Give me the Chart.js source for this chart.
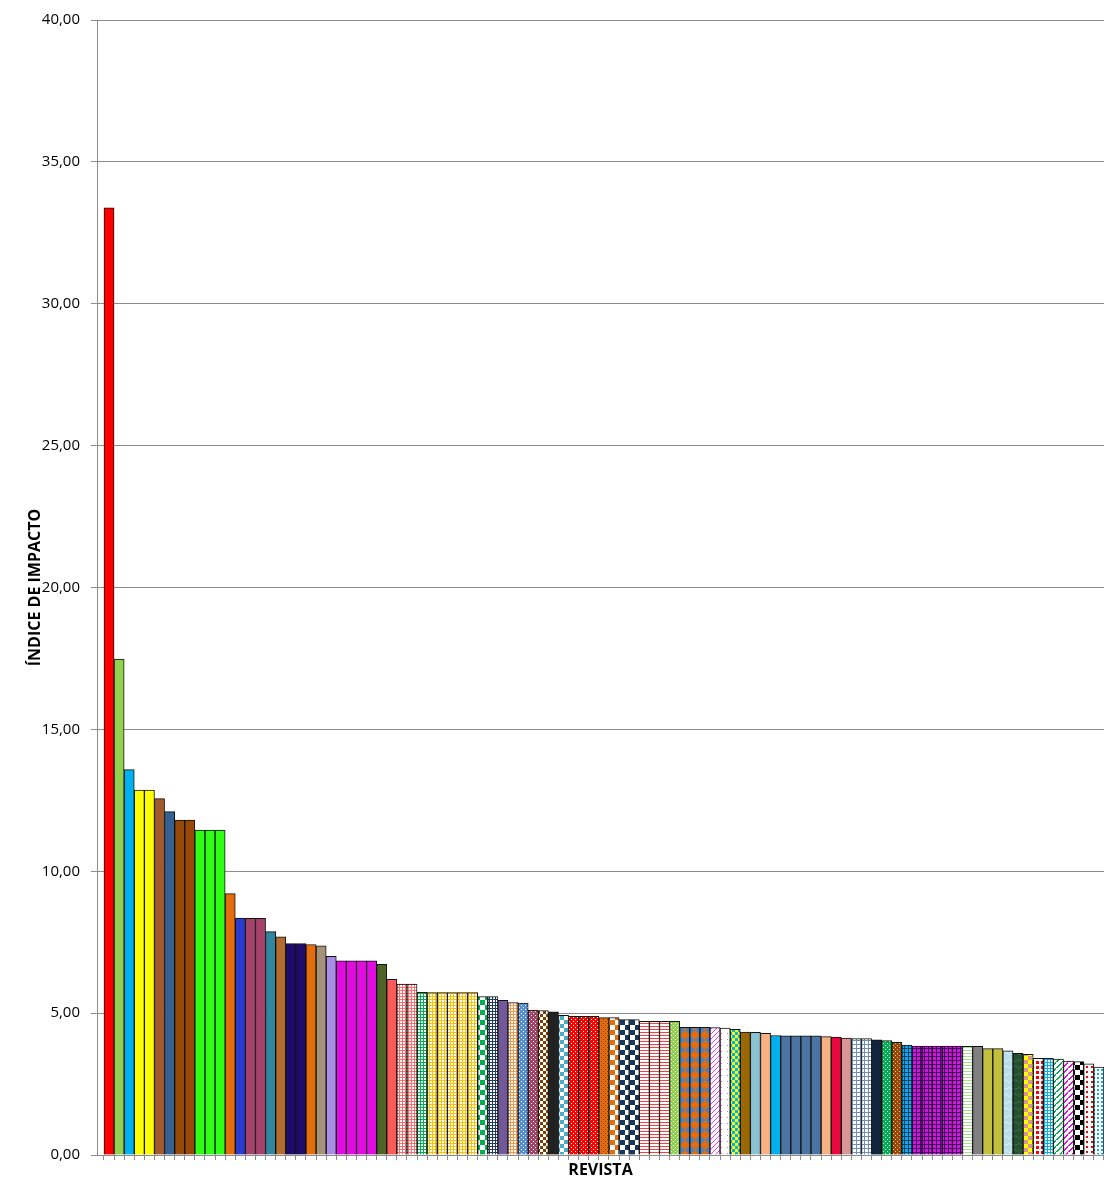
<!DOCTYPE html>
<html lang="es">
<head>
<meta charset="UTF-8">
<title>Índice de impacto por revista</title>
<script src="https://cdn.jsdelivr.net/npm/chart.js@4.4.1/dist/chart.umd.min.js"></script>
<style>
  body { margin: 0; background: #fff; }
  #wrap { width: 1104px; height: 1180px; }
</style>
</head>
<body>
<div id="wrap"><canvas id="chart"></canvas></div>
<script>
// impact index per journal, sorted descending
const values = [33.38, 17.48, 13.58, 12.86, 12.86, 12.56, 12.10, 11.80, 11.80, 11.45, 11.45, 11.45,
  9.21, 8.35, 8.34, 8.34, 7.87, 7.69, 7.45, 7.45, 7.42, 7.37, 7.00, 6.84, 6.84, 6.84, 6.84, 6.72,
  6.19, 6.02, 6.02, 5.73, 5.72, 5.72, 5.72, 5.72, 5.72, 5.58, 5.58, 5.45, 5.37, 5.35, 5.11, 5.09,
  5.05, 4.92, 4.89, 4.89, 4.89, 4.84, 4.84, 4.77, 4.77, 4.71, 4.71, 4.71, 4.71, 4.50, 4.50, 4.50,
  4.49, 4.47, 4.43, 4.33, 4.32, 4.29, 4.21, 4.20, 4.20, 4.20, 4.20, 4.17, 4.16, 4.12, 4.10, 4.10,
  4.06, 4.03, 3.97, 3.87, 3.84, 3.84, 3.84, 3.84, 3.84, 3.83, 3.83, 3.75, 3.75, 3.67, 3.58, 3.55,
  3.41, 3.41, 3.38, 3.31, 3.29, 3.21, 3.10];

const yTicks = [0, 5, 10, 15, 20, 25, 30, 35, 40];

// fill of each bar: plain colour or "pattern:args"
const fills = [
  '#ff0000', '#92d050', '#00b0f0', '#ffff00', '#ffff00', '#a05a2c', '#376092', '#984807', '#984807',
  '#2eff14', '#2eff14', '#2eff14',
  '#e46c0a', '#2b3bd0', '#a5426a', '#a5426a', '#31859c', '#b36b30', '#1f0b6b', '#1f0b6b', '#e46c0a',
  '#a6917b', '#a78de6', '#e00ce0', '#e00ce0', '#e00ce0', '#e00ce0', '#4f6228',
  '#fd5b5b', 'grid:#ff6b6b:3', 'grid:#ff6b6b:3', 'grid:#00b050:3',
  'grid:#ffc000:3', 'grid:#ffc000:3', 'grid:#ffc000:3', 'grid:#ffc000:3', 'grid:#ffc000:3',
  'check:#00b050:#ffffff:5', 'grid:#1f3864:3', '#725a9a', 'grid:#f79646:3',
  'dots:#558ed5:#ffffff', 'dots:#a64265:#ffffff', 'check:#7f3f00:#ffffff:3',
  '#222222', 'check:#4bacc6:#ffffff:4', 'dots:#ff0000:#ffffff', 'dots:#ff0000:#ffffff', 'dots:#ff0000:#ffffff',
  'dots:#e46c0a:#7a3c00', 'check:#e46c0a:#ffffff:5', 'check:#17375e:#ffffff:5', 'check:#17375e:#ffffff:5',
  'hline:#ff3b3b', 'hline:#ff3b3b', 'hline:#ff3b3b', 'dots:#92d050:#ffffff',
  'diamond:#4f81bd:#e46c0a', 'diamond:#4f81bd:#e46c0a', 'diamond:#4f81bd:#e46c0a',
  'diag:#ff33ff:1', 'wdots:#ff66cc:6:1', 'check:#ffff00:#00b0f0:3', '#9a6700', '#8ac3d3', '#f8b183',
  '#00b0f0', '#4c74a2', '#4c74a2', '#4c74a2', '#4c74a2', '#f8b183', '#e6083e', '#d99694',
  'grid:#6d8fba:4', 'grid:#6d8fba:4',
  '#10243e', 'dots:#00b050:#ffffff', 'dots:#974806:#e0c0a0', 'plaid:#00b0f0:#1f3864',
  'plaid:#e00ce0:#2a1a5e', 'plaid:#e00ce0:#2a1a5e', 'plaid:#e00ce0:#2a1a5e', 'plaid:#e00ce0:#2a1a5e', 'plaid:#e00ce0:#2a1a5e',
  'hline:#a8e08f', '#808080', '#c3bf3e', '#c3bf3e', 'marble:#b7dee8:#dff1f6', 'marble:#23512f:#3f7049',
  'check:#ffff00:#d99694:4',
  'squares:#ff0000', 'grid:#00b0f0:3', 'diag:#00b050:2', 'diag:#e00ce0:2', 'check:#000000:#ffffff:5',
  'wdots:#ff0000:5:2', 'wdots:#00b0f0:4:2'
];

function tile(w, h, draw) {
  const c = document.createElement('canvas');
  c.width = w; c.height = h;
  const g = c.getContext('2d');
  draw(g);
  return g.createPattern(c, 'repeat');
}

function makeFill(spec) {
  if (spec[0] === '#') return spec;
  const p = spec.split(':');
  const kind = p[0];
  if (kind === 'grid') {
    const s = +p[2];
    return tile(s, s, g => {
      g.fillStyle = '#fff'; g.fillRect(0, 0, s, s);
      g.fillStyle = p[1]; g.fillRect(0, 0, s, 1); g.fillRect(0, 0, 1, s);
    });
  }
  if (kind === 'plaid') {
    return tile(4, 4, g => {
      g.fillStyle = p[1]; g.fillRect(0, 0, 4, 4);
      g.fillStyle = p[2]; g.fillRect(0, 0, 4, 1); g.fillRect(0, 0, 1, 4);
    });
  }
  if (kind === 'check') {
    const s = +p[3];
    return tile(2 * s, 2 * s, g => {
      g.fillStyle = p[2]; g.fillRect(0, 0, 2 * s, 2 * s);
      g.fillStyle = p[1]; g.fillRect(0, 0, s, s); g.fillRect(s, s, s, s);
    });
  }
  if (kind === 'dots') {
    return tile(4, 4, g => {
      g.fillStyle = p[1]; g.fillRect(0, 0, 4, 4);
      g.fillStyle = p[2]; g.fillRect(1, 1, 1, 1); g.fillRect(3, 3, 1, 1);
    });
  }
  if (kind === 'wdots') {
    const s = +p[2], d = +p[3];
    return tile(s, s, g => {
      g.fillStyle = '#fff'; g.fillRect(0, 0, s, s);
      g.fillStyle = p[1]; g.fillRect(1, 1, d, d);
    });
  }
  if (kind === 'squares') {
    return tile(5, 5, g => {
      g.fillStyle = '#fff'; g.fillRect(0, 0, 5, 5);
      g.fillStyle = p[1]; g.fillRect(1, 1, 3, 3);
    });
  }
  if (kind === 'hline') {
    return tile(3, 3, g => {
      g.fillStyle = '#fff'; g.fillRect(0, 0, 3, 3);
      g.fillStyle = p[1]; g.fillRect(0, 0, 3, 1);
    });
  }
  if (kind === 'diag') {
    const w = +p[2], s = 4 + w;
    return tile(s, s, g => {
      g.fillStyle = '#fff'; g.fillRect(0, 0, s, s);
      g.fillStyle = p[1];
      for (let i = 0; i < s; i++) g.fillRect(i, (s - 1 - i), 1, w);
    });
  }
  if (kind === 'diamond') {
    return tile(10, 10, g => {
      g.fillStyle = p[1]; g.fillRect(0, 0, 10, 10);
      g.fillStyle = p[2];
      g.beginPath(); g.moveTo(5, 0); g.lineTo(10, 5); g.lineTo(5, 10); g.lineTo(0, 5); g.closePath(); g.fill();
    });
  }
  if (kind === 'marble') {
    return tile(10, 14, g => {
      g.fillStyle = p[1]; g.fillRect(0, 0, 10, 14);
      g.strokeStyle = p[2]; g.lineWidth = 1;
      g.beginPath(); g.moveTo(0, 3); g.quadraticCurveTo(5, 0, 10, 5); g.stroke();
      g.beginPath(); g.moveTo(0, 10); g.quadraticCurveTo(4, 13, 10, 9); g.stroke();
    });
  }
  return '#999';
}

const points = values.map((v, i) => ({ x: i, y: v }));
const edges = values.map((v, i) => i - 0.5).concat([values.length - 0.5]);
const gridColor = '#8c8c8c';
const fmt = v => v.toFixed(2).replace('.', ',');

new Chart(document.getElementById('chart'), {
  type: 'bar',
  data: {
    datasets: [{
      data: points,
      backgroundColor: fills.map(makeFill),
      borderColor: '#111',
      borderWidth: 1,
      barPercentage: 1,
      categoryPercentage: 1
    }]
  },
  options: {
    responsive: true,
    maintainAspectRatio: false,
    animation: false,
    layout: { padding: { top: 20, right: 0, left: 0, bottom: 0 } },
    plugins: { legend: { display: false }, tooltip: { enabled: false } },
    scales: {
      x: {
        type: 'linear',
        offset: false,
        min: -1.19,
        max: 98.51,
        afterBuildTicks: s => { s.ticks = edges.map(v => ({ value: v })); },
        afterFit: s => { s.height = 25; },
        grid: { offset: false, drawOnChartArea: false, color: gridColor, tickLength: 5 },
        border: { color: gridColor },
        ticks: { display: false },
        title: {
          display: true, text: 'REVISTA', color: '#000',
          font: { family: 'Open Sans', size: 16, weight: 'bold' },
          padding: { top: 0, bottom: 0 }
        }
      },
      y: {
        min: 0,
        max: 40,
        afterBuildTicks: s => { s.ticks = yTicks.map(v => ({ value: v })); },
        afterFit: s => { s.width = 97; },
        grid: { color: gridColor, tickLength: 6 },
        border: { color: gridColor },
        ticks: {
          color: '#000', padding: 11,
          font: { family: 'Open Sans', size: 15 },
          callback: v => fmt(v)
        },
        title: {
          display: true, text: 'ÍNDICE DE IMPACTO', color: '#000',
          font: { family: 'Open Sans', size: 16, weight: 'bold' },
          padding: { top: 26, bottom: 0 }
        }
      }
    }
  }
});
</script>
</body>
</html>
